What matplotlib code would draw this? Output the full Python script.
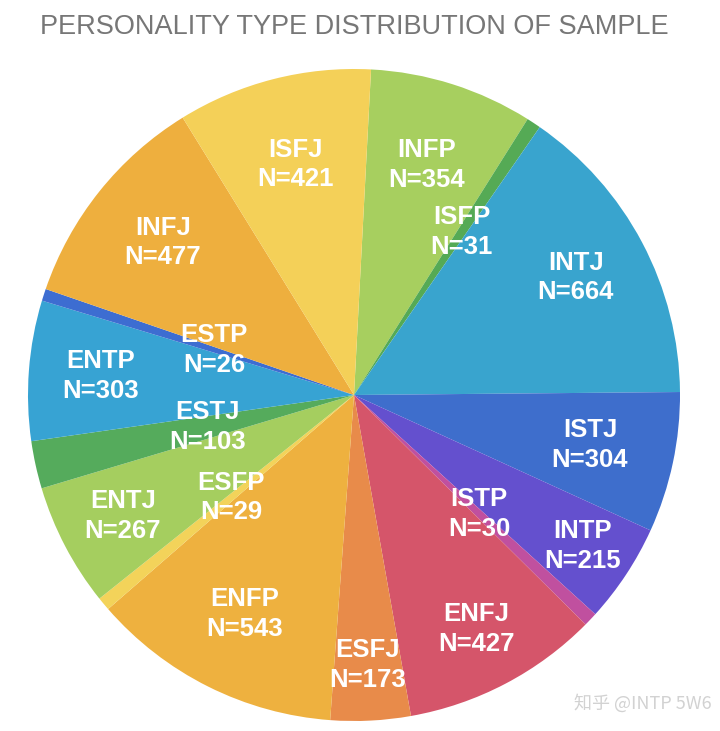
import numpy as np
import matplotlib
matplotlib.use("Agg")
import matplotlib.pyplot as plt

types = ["INFP", "ISFP", "INTJ", "ISTJ", "INTP", "ISTP", "ENFJ", "ESFJ",
         "ENFP", "ESFP", "ENTJ", "ESTJ", "ENTP", "ESTP", "INFJ", "ISFJ"]
counts = [354, 31, 664, 304, 215, 30, 427, 173,
          543, 29, 267, 103, 303, 26, 477, 421]
colors = ["#A7CF5F", "#55AA55", "#39A4CE", "#3E6ECC", "#6450CE", "#C0509F",
          "#D5556A", "#E88B4A", "#EEB13F", "#F3D35A", "#A5CE5F", "#55AB5C",
          "#37A3D3", "#3D6DD1", "#EEAF3E", "#F4D058"]
# radial position of each label (fraction of radius)
label_r = [0.74, 0.60, 0.77, 0.74, 0.84, 0.53, 0.81, 0.83,
           0.75, 0.49, 0.80, 0.46, 0.78, 0.45, 0.75, 0.73]

title = "PERSONALITY TYPE DISTRIBUTION OF SAMPLE"
watermark = "知乎 @INTP 5W6"

fig = plt.figure(figsize=(7.2, 7.31), dpi=100)
ax = fig.add_axes([28 / 720, 10 / 731, 652 / 720, 652 / 731])
start = 87
wedges, _ = ax.pie(counts, colors=colors, startangle=start, counterclock=False,
                   radius=1.0, wedgeprops=dict(linewidth=0))
ax.set_xlim(-1, 1)
ax.set_ylim(-1, 1)
ax.set_aspect("equal")
ax.axis("off")

for w, name, n, r in zip(wedges, types, counts, label_r):
    ang = np.deg2rad((w.theta1 + w.theta2) / 2)
    ax.text(r * np.cos(ang), r * np.sin(ang), f"{name}\nN={n}",
            ha="center", va="center", color="white", fontsize=18.5,
            fontweight="bold", family="Liberation Sans", linespacing=1.3)

fig.text(354 / 720, 1 - 27 / 731, title, ha="center", va="center",
         color="#777777", fontsize=19.5, family="Liberation Sans")
fig.text(712 / 720, 1 - 703 / 731, watermark, ha="right", va="center",
         color="#d2d2d2", fontsize=13,
         family=["Noto Sans CJK SC", "DejaVu Sans"])

fig.savefig("out.png", dpi=100)
